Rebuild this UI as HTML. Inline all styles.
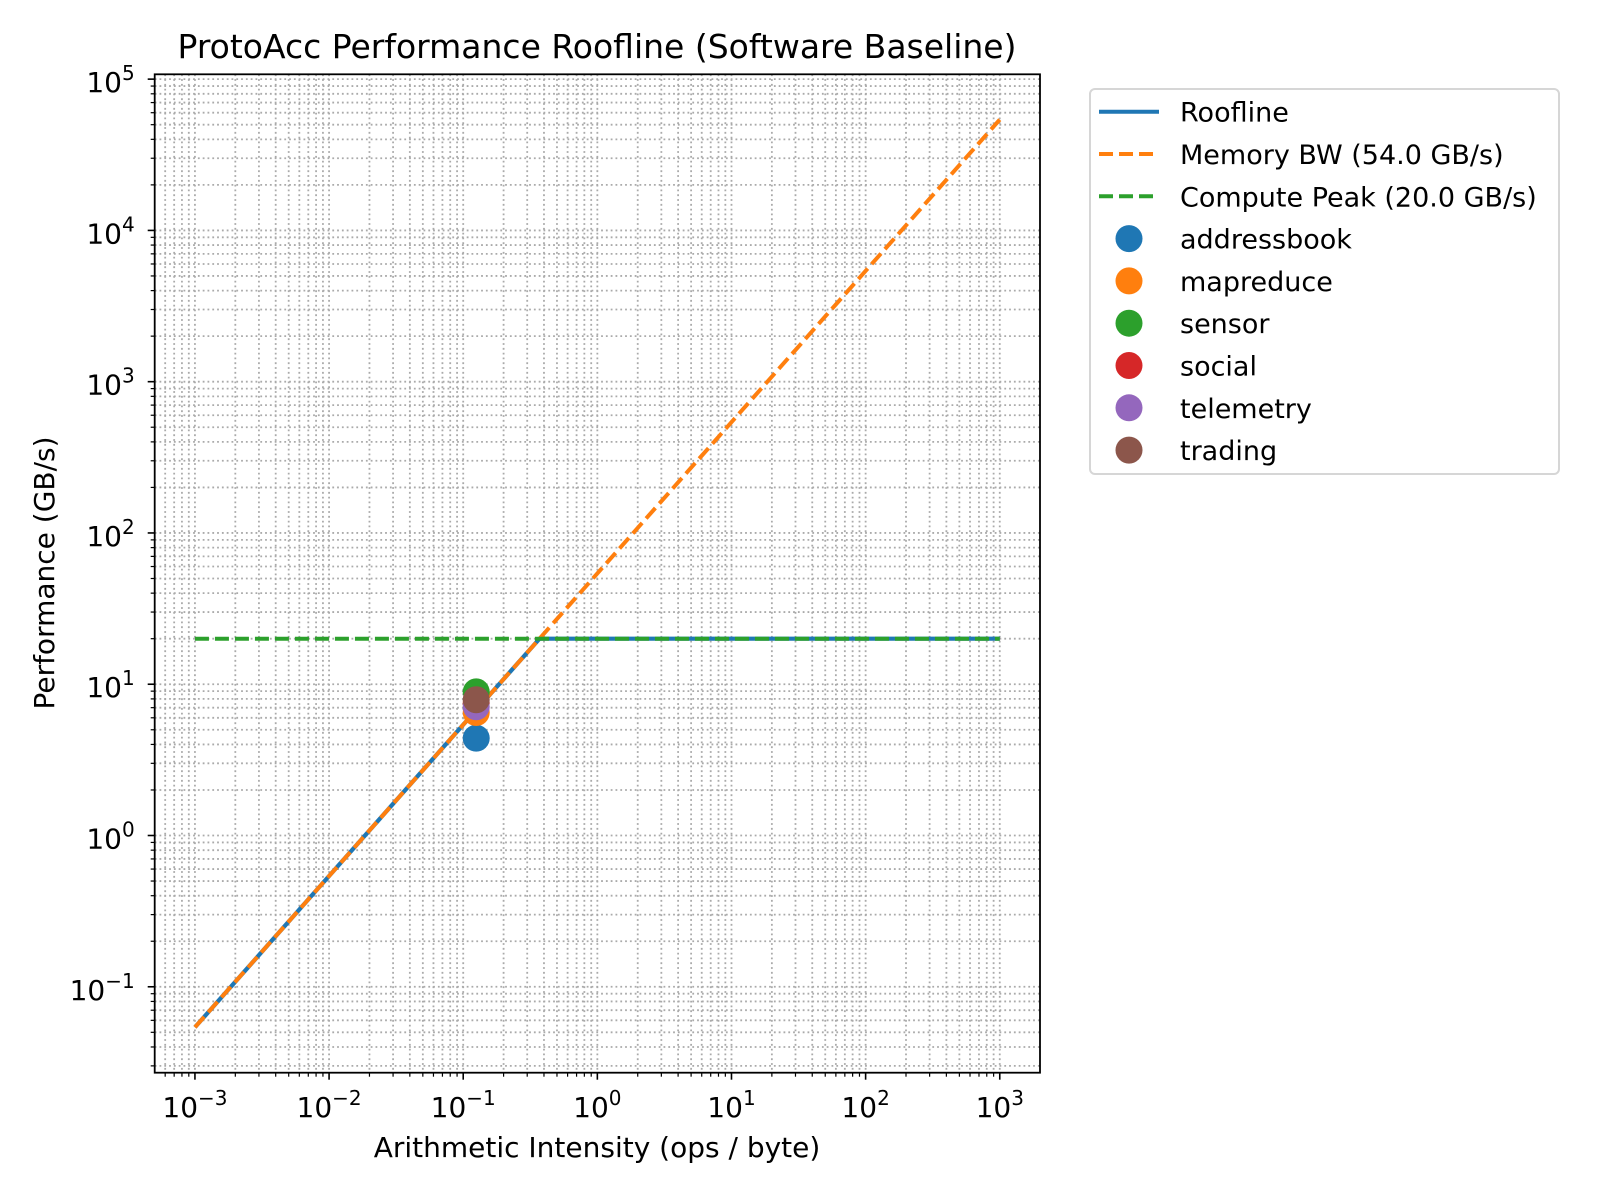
<!DOCTYPE html>
<html><head><meta charset="utf-8"><style>
html,body{margin:0;padding:0;background:#fff;}
svg{display:block;font-family:"DejaVu Sans","Liberation Sans",sans-serif;}
</style></head><body>
<svg id="chart" width="1600" height="1200" viewBox="0 0 1600 1200" xmlns="http://www.w3.org/2000/svg">
<rect x="0" y="0" width="1600" height="1200" fill="#fff"/>
<text x="597" y="58" font-size="33" text-anchor="middle" fill="#000">ProtoAcc Performance Roofline (Software Baseline)</text>
<g id="grid"></g>
<g id="series"></g>
<g id="axes"></g>
<text x="597" y="1157" font-size="28" text-anchor="middle">Arithmetic Intensity (ops / byte)</text>
<text transform="translate(54,573) rotate(-90)" font-size="28" text-anchor="middle">Performance (GB/s)</text>
<g id="legend"></g>
</svg>
<script>
const benchmarks = ["addressbook","mapreduce","sensor","social","telemetry","trading"];
const benchIntensity = [0.125,0.125,0.125,0.125,0.125,0.125];
const benchPerf = [4.4,6.5,8.9,7.5,7.1,7.9];
const benchColors = ["#1f77b4","#ff7f0e","#2ca02c","#d62728","#9467bd","#8c564b"];
const memBW = [54.0];
const computePeak = [20.0];
const aiRange = [0.001,1000];
const xTickExps = [-3,-2,-1,0,1,2,3];
const yTickExps = [-1,0,1,2,3,4,5];

const NS="http://www.w3.org/2000/svg";
const L=154.7,R=1040,T=74.3,B=1072.7;
const xmin=-3.3,xmax=3.3,ymin=-1.568,ymax=5.032;
function X(v){return L+(Math.log10(v)-xmin)/(xmax-xmin)*(R-L);}
function Y(v){return B-(Math.log10(v)-ymin)/(ymax-ymin)*(B-T);}
function mk(tag,attrs,parent){const e=document.createElementNS(NS,tag);for(const k in attrs)e.setAttribute(k,attrs[k]);parent.appendChild(e);return e;}
const grid=document.getElementById('grid'),axes=document.getElementById('axes'),series=document.getElementById('series'),legend=document.getElementById('legend');

for(let e=-4;e<=5;e++){for(let m=1;m<10;m++){const v=m*Math.pow(10,e);const lv=Math.log10(v);
  if(lv>=xmin&&lv<=xmax){const x=X(v);
    const g=mk('line',{x1:x,x2:x,y1:T,y2:B,stroke:'#aaaaaa','stroke-width':1.8,'stroke-dasharray':'1.8,3'},grid);
    
    const t=mk('line',{x1:x,x2:x,y1:B,y2:B+(m==1?7:4),stroke:'#000','stroke-width':m==1?1.6:1.2},axes);
    }
  if(lv>=ymin&&lv<=ymax){const y=Y(v);
    const g=mk('line',{x1:L,x2:R,y1:y,y2:y,stroke:'#aaaaaa','stroke-width':1.8,'stroke-dasharray':'1.8,3'},grid);
    
    const t=mk('line',{x1:L,x2:L-(m==1?7:4),y1:y,y2:y,stroke:'#000','stroke-width':m==1?1.6:1.2},axes);
    }
}}
const frame=mk('rect',{x:L,y:T,width:R-L,height:B-T,fill:'none',stroke:'#000','stroke-width':1.8},axes);

xTickExps.forEach(e=>{const x=X(Math.pow(10,e));
  const t=mk('text',{x:x,y:1117,'font-size':28,'text-anchor':'middle'},axes);
  
  t.innerHTML='10<tspan dy="-12" font-size="20">'+(e<0?'\u2212'+(-e):e)+'</tspan>';});
yTickExps.forEach(e=>{const y=Y(Math.pow(10,e));
  const t=mk('text',{x:L-20,y:y+13,'font-size':28,'text-anchor':'end'},axes);
  
  t.innerHTML='10<tspan dy="-12" font-size="20">'+(e<0?'\u2212'+(-e):e)+'</tspan>';});

const ridge=computePeak[0]/memBW[0];
const roof=mk('polyline',{points:[X(aiRange[0])+','+Y(memBW[0]*aiRange[0]),X(ridge)+','+Y(computePeak[0]),X(aiRange[1])+','+Y(computePeak[0])].join(' '),fill:'none',stroke:'#1f77b4','stroke-width':4.2},series);

const mem=mk('line',{x1:X(aiRange[0]),y1:Y(memBW[0]*aiRange[0]),x2:X(aiRange[1]),y2:Y(memBW[0]*aiRange[1]),stroke:'#ff7f0e','stroke-width':4,'stroke-dasharray':'14,6'},series);

const cp=mk('line',{x1:X(aiRange[0]),y1:Y(computePeak[0]),x2:X(aiRange[1]),y2:Y(computePeak[0]),stroke:'#2ca02c','stroke-width':4,'stroke-dasharray':'14,6'},series);

benchmarks.forEach((b,i)=>{const c=mk('circle',{cx:X(benchIntensity[i]),cy:Y(benchPerf[i]),r:13.5,fill:benchColors[i]},series);
  });

const lb=mk('rect',{x:1090,y:89,width:469,height:385,rx:5,fill:'#fff',stroke:'#d6d6d6','stroke-width':2},legend);

const entries=[["Roofline","line","#1f77b4",""],["Memory BW ("+memBW[0].toFixed(1)+" GB/s)","line","#ff7f0e","14,6"],["Compute Peak ("+computePeak[0].toFixed(1)+" GB/s)","line","#2ca02c","14,6"]];
benchmarks.forEach((b,i)=>entries.push([b,"dot",benchColors[i],""]));
entries.forEach((en,i)=>{const y=111.7+i*42.3;
  if(en[1]=="line"){const l=mk('line',{x1:1099,x2:1159,y1:y,y2:y,stroke:en[2],'stroke-width':4},legend);
    if(en[3])l.setAttribute('stroke-dasharray',en[3]);
    }
  else{const c=mk('circle',{cx:1129,cy:y,r:13.5,fill:en[2]},legend);
    }
  const t=mk('text',{x:1180,y:y+10,'font-size':27},legend);t.textContent=en[0];
  });
</script>
</body></html>
